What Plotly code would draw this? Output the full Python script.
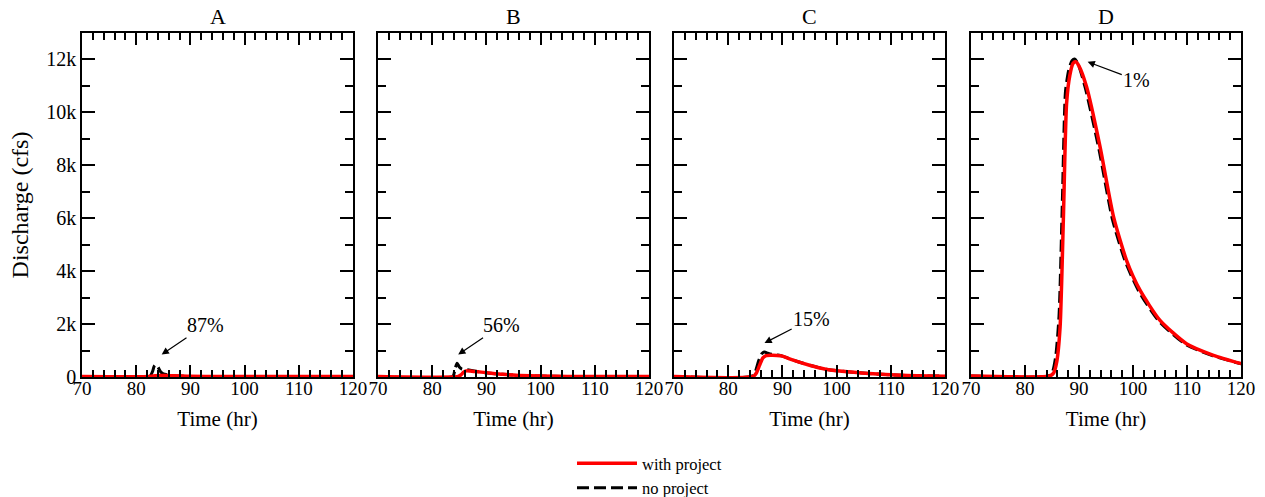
import plotly.graph_objects as go

# ---------------- data ----------------
panels = ["A", "B", "C", "D"]
reduction_labels = ["87%", "56%", "15%", "1%"]
x_ticks = [70, 80, 90, 100, 110, 120]
y_tickvals = [0, 2000, 4000, 6000, 8000, 10000, 12000]
y_ticktext = ["0", "2k", "4k", "6k", "8k", "10k", "12k"]

# Panel A
a_time_np = [70, 82.5, 83.0, 83.3, 83.6, 84.0, 84.5, 85.0, 86.0, 87.0, 88.0, 90.0, 95.0, 120]
a_flow_np = [20, 20, 200, 400, 460, 380, 200, 120, 80, 50, 35, 20, 20, 20]
a_time_wp = [70, 82.5, 83.5, 84.5, 86.0, 88.0, 90.0, 95.0, 120]
a_flow_wp = [20, 20, 45, 60, 50, 38, 25, 20, 20]

# Panel B
b_time_np = [70, 83.8, 84.2, 84.6, 85.0, 85.5, 86.5, 88.0, 90.0, 93.0, 96.0, 100.0, 105.0, 120]
b_flow_np = [20, 20, 300, 520, 380, 300, 270, 220, 160, 100, 60, 35, 20, 20]
b_time_wp = [70, 84.8, 85.3, 85.8, 86.3, 87.0, 88.0, 90.0, 93.0, 96.0, 100.0, 105.0, 120]
b_flow_wp = [20, 20, 80, 180, 230, 225, 205, 165, 100, 60, 35, 20, 20]

# Panel C
c_time_np = [70, 84.3, 85.0, 85.6, 86.2, 86.7, 87.3, 88.0, 89.0, 90.0, 92.0, 95.0, 98.0, 101.0, 106.0, 112.0, 120]
c_flow_np = [20, 20, 200, 600, 880, 945, 900, 860, 830, 790, 640, 445, 295, 215, 130, 65, 30]
c_time_wp = [70, 84.6, 85.2, 85.8, 86.4, 87.0, 88.0, 89.0, 90.0, 92.0, 95.0, 98.0, 101.0, 106.0, 112.0, 120]
c_flow_wp = [20, 20, 150, 450, 720, 810, 820, 815, 790, 635, 442, 293, 215, 130, 65, 30]

# Panel D
d_time_np = [70, 84.4, 85.1, 85.7, 86.3, 86.9, 87.5, 88.1, 88.7, 89.2, 89.8, 91.2, 93.7, 96.2, 98.6, 101.1, 104.8, 109.7, 114.7, 120]
d_flow_np = [40, 40, 200, 800, 2300, 6500, 10800, 11600, 11950, 12020, 11850, 10900, 8600, 5950, 4350, 3230, 2110, 1240, 810, 500]
d_time_wp = [70, 84.6, 85.3, 85.9, 86.5, 87.1, 87.7, 88.3, 88.9, 89.4, 90.0, 91.4, 93.9, 96.4, 98.8, 101.3, 105.0, 109.9, 114.9, 120]
d_flow_wp = [40, 40, 150, 600, 1890, 5925, 10340, 11400, 11850, 11910, 11750, 10965, 8700, 6050, 4410, 3280, 2140, 1260, 820, 505]

no_project = [(a_time_np, a_flow_np), (b_time_np, b_flow_np), (c_time_np, c_flow_np), (d_time_np, d_flow_np)]
with_project = [(a_time_wp, a_flow_wp), (b_time_wp, b_flow_wp), (c_time_wp, c_flow_wp), (d_time_wp, d_flow_wp)]

# annotation placement: (head x, head y, text x, text y) in data units
label_pos = [
    (84.7, 850, 92.7, 1955),
    (84.8, 850, 92.8, 1955),
    (86.7, 1285, 95.4, 2208),
    (91.6, 11909, 100.7, 11217),
]

# ---------------- layout geometry ----------------
W, H = 1265, 497
ml, mr, mt, mb = 82, 24, 33, 120
pw = W - ml - mr
ph = H - mt - mb
starts = [82, 378, 674, 971]
ends = [353, 649, 945, 1241]
domains = [[(s - ml) / pw, (e - ml) / pw] for s, e in zip(starts, ends)]

FONT = "Liberation Serif"
RED = "#ff0000"

fig = go.Figure()

for i in range(4):
    n = "" if i == 0 else str(i + 1)
    t, v = no_project[i]
    fig.add_trace(go.Scatter(
        x=t, y=v, mode="lines", name="no project",
        line=dict(color="black", width=3, dash="12px,5px", shape="spline", smoothing=0.6),
        xaxis="x" + n, yaxis="y" + n, showlegend=(i == 0), legendrank=2,
    ))
for i in range(4):
    n = "" if i == 0 else str(i + 1)
    t, v = with_project[i]
    fig.add_trace(go.Scatter(
        x=t, y=v, mode="lines", name="with project",
        line=dict(color=RED, width=3.5, shape="spline", smoothing=0.6),
        xaxis="x" + n, yaxis="y" + n, showlegend=(i == 0), legendrank=1,
    ))

annotations = []
for i in range(4):
    n = "" if i == 0 else str(i + 1)
    fig.layout["xaxis" + n] = dict(
        domain=domains[i], range=[70, 120], anchor="y" + n, automargin=False,
        tickvals=x_ticks, ticks="inside", ticklen=12, tickwidth=1.5, tickcolor="black",
        minor=dict(dtick=2, ticks="inside", ticklen=7, tickwidth=1.5, tickcolor="black"),
        showline=True, mirror="ticks", linecolor="black", linewidth=1.5,
        showgrid=False, zeroline=False, ticklabelstandoff=-7,
        tickfont=dict(family=FONT, size=19, color="black"),
        title=dict(text="Time (hr)", font=dict(family=FONT, size=21, color="black"), standoff=14),
    )
    fig.layout["yaxis" + n] = dict(
        domain=[0, 1], range=[0, 13000], anchor="x" + n, automargin=False,
        tickvals=y_tickvals, ticktext=y_ticktext, showticklabels=(i == 0),
        ticks="inside", ticklen=13, tickwidth=1.5, tickcolor="black",
        minor=dict(dtick=1000, ticks="inside", ticklen=8, tickwidth=1.5, tickcolor="black"),
        showline=True, mirror="ticks", linecolor="black", linewidth=1.5,
        showgrid=False, zeroline=False,
        tickfont=dict(family=FONT, size=20, color="black"),
        title=dict(text="Discharge (cfs)" if i == 0 else "",
                   font=dict(family=FONT, size=24, color="black"), standoff=11),
    )
    annotations.append(dict(
        text=panels[i], xref="x" + n + " domain", yref="y" + n + " domain",
        x=0.5, y=1, yanchor="bottom", xanchor="center", showarrow=False, yshift=2,
        font=dict(family=FONT, size=22, color="black"),
    ))
    hx, hy, tx, ty = label_pos[i]
    annotations.append(dict(
        text=reduction_labels[i], xref="x" + n, yref="y" + n, x=hx, y=hy,
        axref="x" + n, ayref="y" + n, ax=tx, ay=ty,
        showarrow=True, arrowhead=2, arrowsize=1.2, arrowwidth=1.2, arrowcolor="black",
        font=dict(family=FONT, size=20, color="black"),
    ))

fig.update_layout(
    width=W, height=H,
    margin=dict(l=ml, r=mr, t=mt, b=mb, autoexpand=False),
    paper_bgcolor="white", plot_bgcolor="white",
    annotations=annotations,
    showlegend=True,
    legend=dict(
        x=(572 - ml) / pw, y=-(446 - (mt + ph)) / ph,
        xanchor="left", yanchor="top",
        font=dict(family=FONT, size=16.5, color="black"),
        bgcolor="rgba(0,0,0,0)", itemwidth=60, tracegroupgap=0,
    ),
)

fig.write_html("out.html", config={"displayModeBar": False},
               post_script="document.body.style.margin='0px';")
